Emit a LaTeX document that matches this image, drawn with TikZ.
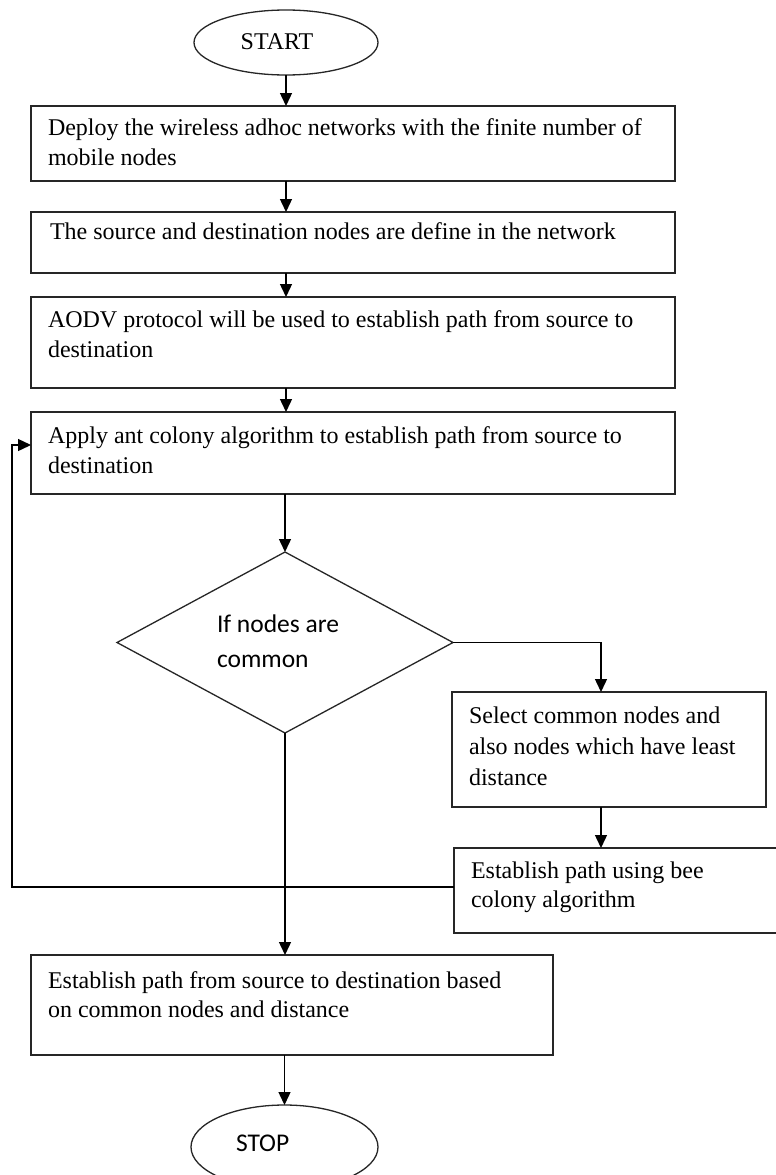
\documentclass[tikz,border=0pt]{standalone}
\usepackage{fontspec}
\setmainfont{Liberation Serif}
\newfontfamily\calfont{Carlito}
\usetikzlibrary{shapes.geometric,arrows.meta,calc}
\begin{document}
\begin{tikzpicture}[x=1pt,y=-1pt,
  line width=1.4pt,
  box/.style={draw=black!85, line width=1.5pt, rectangle, inner sep=0pt, outer sep=0pt, anchor=north west},
  term/.style={draw=black!85, line width=1.3pt, ellipse, inner sep=0pt, outer sep=0pt},
  decis/.style={draw=black!85, line width=1.3pt, diamond, inner sep=0pt, outer sep=0pt},
  txt/.style={inner sep=0pt, outer sep=0pt, anchor=base west, align=left, font=\fontsize{24}{30}\selectfont},
  sanstxt/.style={inner sep=0pt, outer sep=0pt, anchor=base west, align=left, font=\calfont\fontsize{25.5}{35}\selectfont},
  arr/.style={draw=black, line width=1.4pt, -{Triangle[length=13pt,width=12pt]}}
]
\useasboundingbox (0,0) rectangle (776,1175);
\fill[white] (0,0) rectangle (776,1175);

% terminals
\node[term, minimum width=184, minimum height=65] (start) at (286,42.5) {};
\node[txt, anchor=base] (tstart) at (277,49) {START};
\node[term, minimum width=187, minimum height=84] (stop) at (284.5,1147) {};
\node[sanstxt] (tstop) at (236,1151) {STOP};

% process boxes (multi-line text nodes are placed by the baseline of their last line)
\node[box, minimum width=644, minimum height=75] (b1) at (31,106) {};
\node[txt] (t1) at (48,165) {Deploy the wireless adhoc networks with the finite number of\\mobile nodes};
\node[box, minimum width=644, minimum height=61] (b2) at (31,212) {};
\node[txt] (t2) at (50,239) {The source and destination nodes are define in the network};
\node[box, minimum width=644, minimum height=91] (b3) at (31,297) {};
\node[txt] (t3) at (48,357) {AODV protocol will be used to establish path from source to\\destination};
\node[box, minimum width=644, minimum height=82] (b4) at (31,412) {};
\node[txt] (t4) at (48,473) {Apply ant colony algorithm to establish path from source to\\destination};

% decision
\node[decis, minimum width=336, minimum height=181] (dia) at (285,642.5) {};
\node[sanstxt] (tdia) at (217,667) {If nodes are\\common};

% right branch
\node[box, minimum width=314, minimum height=115] (b5) at (452,692) {};
\node[txt, font=\fontsize{24}{31}\selectfont] (t5) at (469,785) {Select common nodes and\\also nodes which have least\\distance};
\node[box, minimum width=340, minimum height=85] (bee) at (454,848) {};
\node[txt, font=\fontsize{24}{29}\selectfont] (tbee) at (471,907) {Establish path using bee\\colony algorithm};

% final box
\node[box, minimum width=522, minimum height=100] (b6) at (31,955) {};
\node[txt, font=\fontsize{24}{29}\selectfont] (t6) at (48,1017) {Establish path from source to destination based\\on common nodes and distance};

% helper coordinates
\coordinate (rx) at (601,0);
\coordinate (lp1) at (12,887);
\coordinate (lp2) at (12,445);

% connectors
\draw[arr] (start.south) -- (start.south |- b1.north);
\draw[arr] (b1.south -| start) -- (b2.north -| start);
\draw[arr] (b2.south -| start) -- (b3.north -| start);
\draw[arr] (b3.south -| start) -- (b4.north -| start);
\draw[arr] (b4.south -| dia.north) -- (dia.north);
\draw[arr] (dia.east) -| (b5.north -| rx);
\draw[arr] (b5.south -| rx) -- (bee.north -| rx);
\draw[arr] (bee.west |- lp1) -- (lp1) -- (lp2) -- (b4.west |- lp2);
\draw[arr] (dia.south) -- (dia.south |- b6.north);
\draw[arr] (b6.south -| stop.north) -- (stop.north);
\end{tikzpicture}
\end{document}
